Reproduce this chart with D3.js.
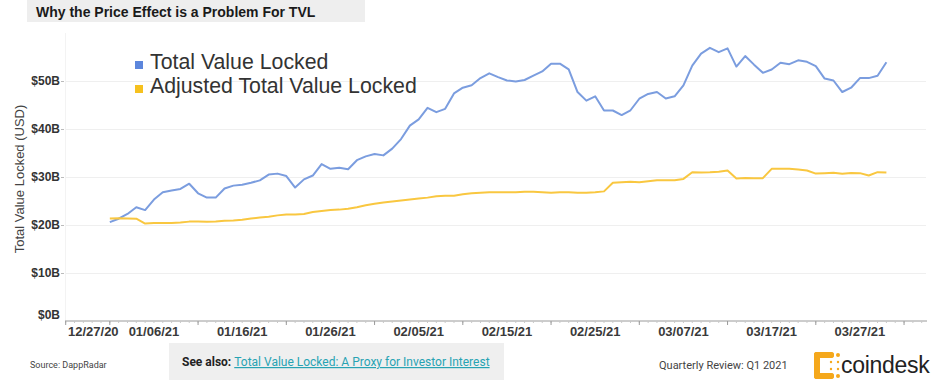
<!DOCTYPE html>
<html>
<head>
<meta charset="utf-8">
<script src="https://cdn.jsdelivr.net/npm/d3@7"></script>
<style>
  html, body { margin: 0; padding: 0; background: #fff; }
  svg { display: block; font-family: "Liberation Sans", Arial, sans-serif; }
</style>
</head>
<body>
<div id="chart"></div>
<script>
// daily values, 01/01/21 .. 03/30/21, in $B
const startDate = new Date(2021, 0, 1);
const tvl = [
  20.5, 21.2, 22.2, 23.6, 23.0, 25.2, 26.7, 27.1, 27.4, 28.5,
  26.5, 25.6, 25.6, 27.5, 28.1, 28.3, 28.7, 29.2, 30.4, 30.6,
  30.1, 27.7, 29.4, 30.2, 32.6, 31.6, 31.8, 31.5, 33.4, 34.2,
  34.7, 34.4, 35.8, 37.8, 40.6, 41.9, 44.3, 43.4, 44.1, 47.3,
  48.5, 49.0, 50.5, 51.5, 50.7, 50.0, 49.8, 50.1, 51.0, 51.9,
  53.5, 53.5, 52.3, 47.6, 45.8, 46.7, 43.75, 43.75, 42.8, 43.8,
  46.2, 47.2, 47.6, 46.25, 46.7, 49.0, 53.1, 55.6, 56.8, 55.9,
  56.7, 52.9, 55.1, 53.3, 51.6, 52.3, 53.7, 53.4, 54.2, 53.9,
  53.0, 50.4, 50.0, 47.6, 48.5, 50.5, 50.5, 51.0, 53.8
];
const adjustedTvl = [
  21.25, 21.3, 21.25, 21.2, 20.2, 20.3, 20.3, 20.3, 20.4, 20.6,
  20.65, 20.55, 20.65, 20.8, 20.85, 21.0, 21.25, 21.45, 21.6, 21.9,
  22.1, 22.1, 22.2, 22.6, 22.8, 23.0, 23.1, 23.3, 23.6, 24.0,
  24.3, 24.6, 24.8, 25.0, 25.2, 25.4, 25.6, 25.9, 26.0, 26.0,
  26.3, 26.5, 26.6, 26.7, 26.7, 26.7, 26.7, 26.8, 26.8, 26.7,
  26.6, 26.7, 26.7, 26.6, 26.6, 26.7, 26.9, 28.7, 28.8, 28.9,
  28.8, 29.0, 29.2, 29.2, 29.2, 29.5, 30.9, 30.85, 30.9, 31.0,
  31.25, 29.6, 29.7, 29.65, 29.65, 31.6, 31.6, 31.6, 31.45, 31.25,
  30.6, 30.7, 30.8, 30.55, 30.75, 30.7, 30.2, 30.9, 30.85
];
const yTicks = [0, 10, 20, 30, 40, 50];
const xTickLabels = ["12/27/20", "01/06/21", "01/16/21", "01/26/21", "02/05/21",
  "02/15/21", "02/25/21", "03/07/21", "03/17/21", "03/27/21"];
const seriesNames = ["Total Value Locked", "Adjusted Total Value Locked"];
const seriesColors = ["#7b9ddf", "#f9c740"];
const legendColors = ["#5c86dc", "#f6c11e"];

const width = 932, height = 388;
const parse = d3.timeParse("%m/%d/%y");
const dates = tvl.map((_, i) => d3.timeDay.offset(startDate, i));

const svg = d3.select("#chart").append("svg")
  .attr("width", width).attr("height", height);

const x = d3.scaleTime()
  .domain([new Date(2020, 11, 27), new Date(2021, 3, 3)])
  .range([65.7, 921.7]);
const y = d3.scaleLinear().domain([0, 50]).range([320.5, 80.5]);

// title
svg.append("rect").attr("x", 27).attr("y", 0).attr("width", 338).attr("height", 22)
  .attr("fill", "#eeeeee");
svg.append("text").attr("x", 36).attr("y", 16.5)
  .attr("font-size", 14).attr("font-weight", "bold").attr("fill", "#1a1a1a")
  .text("Why the Price Effect is a Problem For TVL");

// plot frame left edge
svg.append("line").attr("x1", 65.5).attr("x2", 65.5).attr("y1", 33).attr("y2", 321)
  .attr("stroke", "#f3f3f3");

// grid
svg.append("g").selectAll("line").data(yTicks.filter(d => d > 0)).join("line")
  .attr("x1", 66).attr("x2", 926)
  .attr("y1", d => Math.round(y(d)) + 0.5).attr("y2", d => Math.round(y(d)) + 0.5)
  .attr("stroke", "#efefef");

// y labels
const yl = svg.append("g");
yl.selectAll("text").data(yTicks).join("text")
  .attr("x", 60).attr("y", d => y(d) - (d === 0 ? 6 : 0))
  .attr("dy", "0.35em").attr("text-anchor", "end")
  .attr("font-size", 12).attr("font-weight", "bold").attr("fill", "#333")
  .text(d => `$${d}B`);
yl.selectAll("line").data(yTicks.filter(d => d > 0)).join("line")
  .attr("x1", 61).attr("x2", 64)
  .attr("y1", d => Math.round(y(d)) + 0.5).attr("y2", d => Math.round(y(d)) + 0.5)
  .attr("stroke", "#bbb");

svg.append("text")
  .attr("transform", "translate(24,179) rotate(-90)")
  .attr("text-anchor", "middle").attr("font-size", 13).attr("fill", "#444")
  .text("Total Value Locked (USD)");

// x axis
const xa = svg.append("g");
xa.append("line").attr("x1", 65).attr("x2", 927).attr("y1", 321).attr("y2", 321)
  .attr("stroke", "#9a9a9a");
const days = d3.timeDay.range(new Date(2020, 11, 27), new Date(2021, 3, 4));
xa.selectAll("line.minor").data(days).join("line").attr("class", "minor")
  .attr("x1", d => x(d)).attr("x2", d => x(d)).attr("y1", 321).attr("y2", 323)
  .attr("stroke", "#c8c8c8");
const majors = d3.timeDay.range(new Date(2021, 0, 1), new Date(2021, 3, 4), 10);
xa.selectAll("line.major").data([new Date(2020, 11, 27), ...majors]).join("line").attr("class", "major")
  .attr("x1", d => x(d)).attr("x2", d => x(d)).attr("y1", 321).attr("y2", 325)
  .attr("stroke", "#9a9a9a");
xa.selectAll("text").data(xTickLabels).join("text")
  .attr("x", (d, i) => i === 0 ? 68 : x(parse(d)))
  .attr("y", 336)
  .attr("text-anchor", (d, i) => i === 0 ? "start" : "middle")
  .attr("font-size", 13).attr("font-weight", "bold").attr("fill", "#3a3a3a")
  .text(d => d);

// lines
const line = d3.line().x((d, i) => x(dates[i])).y(d => y(d));
[tvl, adjustedTvl].forEach((s, k) => {
  svg.append("path").datum(s)
    .attr("fill", "none").attr("stroke", seriesColors[k])
    .attr("stroke-width", 2).attr("stroke-linejoin", "round")
    .attr("d", line);
});

// legend
const lg = svg.append("g").selectAll("g").data(seriesNames).join("g")
  .attr("transform", (d, i) => `translate(135,${61 + i * 24})`);
lg.append("rect").attr("width", 8).attr("height", 8).attr("fill", (d, i) => legendColors[i]);
lg.append("text").attr("x", 15).attr("y", 7.5)
  .attr("font-size", 21.3).attr("fill", "#333").text(d => d);

// footer
svg.append("text").attr("x", 30).attr("y", 368)
  .attr("font-family", "Roboto").attr("font-size", 9).attr("fill", "#444")
  .text("Source: DappRadar");

svg.append("rect").attr("x", 169).attr("y", 343).attr("width", 335).attr("height", 37)
  .attr("fill", "#efefef");
const see = svg.append("text").attr("x", 182).attr("y", 366)
  .attr("font-family", "Roboto").attr("font-size", 12);
see.append("tspan").attr("font-weight", "bold").attr("fill", "#222").text("See also: ");
see.append("tspan").attr("fill", "#27a3b3").attr("text-decoration", "underline")
  .text("Total Value Locked: A Proxy for Investor Interest");

svg.append("text").attr("x", 659).attr("y", 369)
  .attr("font-family", "Roboto").attr("font-size", 11).attr("fill", "#444")
  .text("Quarterly Review: Q1 2021");

// coindesk logo
const logo = svg.append("g").attr("transform", "translate(815,354)");
const dots = [
  [0, 0, 3], [7, 0, 3], [14, 0, 3], [21, 0, 2],
  [0, 7, 3], [14, 7, 1.2], [21, 7, 1.2],
  [0, 14, 3], [14, 14, 1.2], [21, 14, 1.2],
  [0, 21, 3], [7, 21, 3], [14, 21, 3], [21, 21, 2]
];
logo.selectAll("circle").data(dots).join("circle")
  .attr("cx", d => d[0] + 2).attr("cy", d => d[1] + 1).attr("r", d => d[2])
  .attr("fill", "#f5a81c");
logo.append("rect").attr("x", -1).attr("y", -2).attr("width", 6).attr("height", 27).attr("rx", 3).attr("fill", "#f5a81c");
logo.append("rect").attr("x", -1).attr("y", -2).attr("width", 20).attr("height", 6).attr("rx", 3).attr("fill", "#f5a81c");
logo.append("rect").attr("x", -1).attr("y", 19).attr("width", 20).attr("height", 6).attr("rx", 3).attr("fill", "#f5a81c");
svg.append("text").attr("x", 841).attr("y", 373)
  .attr("font-size", 23).attr("fill", "#222").attr("letter-spacing", -0.3)
  .text("coindesk");
</script>
</body>
</html>
